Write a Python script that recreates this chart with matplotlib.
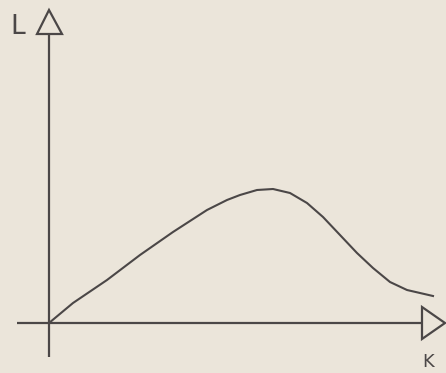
import matplotlib.pyplot as plt
from matplotlib.patches import Polygon

# curve: capital K vs labour L (origin at axis crossing)
K = [0, 24, 58, 91, 124, 158, 178, 191, 208, 224, 241, 258, 274, 291, 308, 324, 341, 358, 384]
L = [0, 20, 43, 68, 91, 113, 123, 128, 133, 134, 130, 120, 106, 88, 70, 55, 41, 33, 27]

paper = '#ebe5da'
ink = '#4b4747'

fig = plt.figure(figsize=(4.46, 3.73), dpi=100)
fig.patch.set_facecolor(paper)
ax = fig.add_axes([0, 0, 1, 1])
ax.set_facecolor(paper)
ax.set_xlim(-49, 397)
ax.set_ylim(-50, 323)
ax.axis('off')

# axes with open arrow heads
ax.plot([0, 0], [-34, 289], color=ink, lw=1.6, solid_capstyle='butt')
ax.plot([-32, 373], [0, 0], color=ink, lw=1.6, solid_capstyle='butt')
ax.add_patch(Polygon([[-12, 289], [13, 289], [0, 313]], closed=True,
                     fill=False, edgecolor=ink, lw=1.6, joinstyle='miter'))
ax.add_patch(Polygon([[373, 16], [373, -16], [396, 0]], closed=True,
                     fill=False, edgecolor=ink, lw=1.6, joinstyle='miter'))

ax.plot(K, L, color=ink, lw=1.5, solid_joinstyle='round')

ax.text(-39, 289, 'L', fontsize=19, color=ink, ha='left', va='baseline',
        family='DejaVu Sans')
ax.text(373, -48, 'K', fontsize=13, color=ink, ha='left', va='bottom',
        family='DejaVu Sans')

fig.savefig('out.png', dpi=100, facecolor=paper)
